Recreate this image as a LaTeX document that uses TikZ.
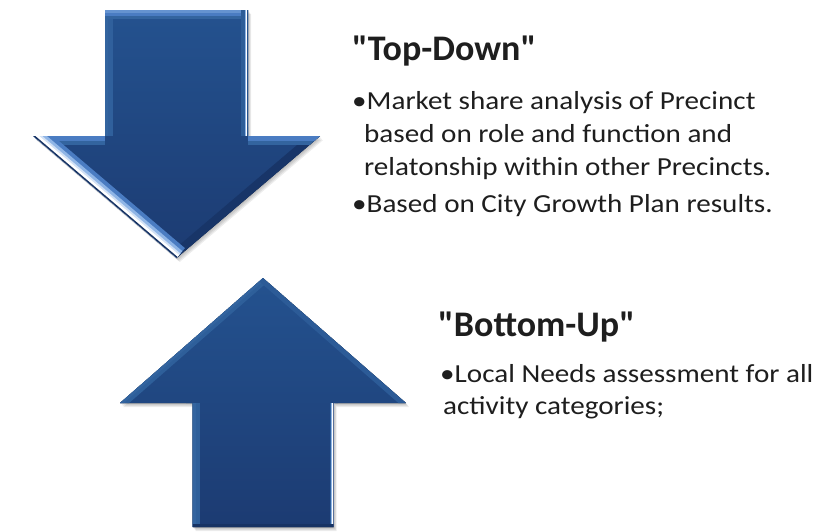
\documentclass[tikz,border=0pt]{standalone}
\usepackage{fontspec}
\setmainfont{Carlito}[Ligatures=TeXOff]
\definecolor{arrtop}{HTML}{24528F}
\definecolor{arrbot}{HTML}{1C3B72}
\definecolor{bevlight}{HTML}{4A7CC2}
\definecolor{bevmid}{HTML}{33649F}
\definecolor{bevpale}{HTML}{8FB5E6}
\definecolor{bevdark}{HTML}{173364}
\definecolor{txt}{HTML}{1E1E1E}
\newcommand{\wide}[1]{\scalebox{1.12}[1]{#1}}
\tikzset{
  title/.style={anchor=base west, inner sep=0pt, font=\fontsize{36}{40}\selectfont\bfseries, text=txt},
  body/.style={anchor=base west, inner sep=0pt, font=\fontsize{26}{30}\selectfont, text=txt},
  arrowfill/.style={top color=arrtop, bottom color=arrbot},
  shadowfill/.style={fill=black, opacity=0.07}
}
\begin{document}
\begin{tikzpicture}[x=1pt,y=-1pt]
\useasboundingbox (0,0) rectangle (826,531);
% ---------- down arrow coordinates ----------
\coordinate (dA) at (105,10);
\coordinate (dB) at (248,10);
\coordinate (dC) at (248,136);
\coordinate (dD) at (320,136);
\coordinate (dE) at (176.5,258);
\coordinate (dF) at (33,136);
\coordinate (dG) at (105,136);
% ---------- up arrow coordinates ----------
\coordinate (uT) at (263,278);
\coordinate (uR) at (406,403);
\coordinate (uRs) at (333.5,403);
\coordinate (uBR) at (333.5,527);
\coordinate (uBL) at (192.5,527);
\coordinate (uLs) at (192.5,403);
\coordinate (uL) at (120,403);
% ---------- shadows ----------
\foreach \s in {1,2,3,4}{
  \fill[shadowfill, transform canvas={shift={(\s*0.8,\s)}}] (dA) -- (dB) -- (dC) -- (dD) -- (dE) -- (dF) -- (dG) -- cycle;
  \fill[shadowfill, transform canvas={shift={(\s*0.8,\s)}}] (uT) -- (uR) -- (uRs) -- (uBR) -- (uBL) -- (uLs) -- (uL) -- cycle;
}
% ---------- down arrow body ----------
\fill[arrowfill] (dA) -- (dB) -- (dC) -- (dD) -- (dE) -- (dF) -- (dG) -- cycle;
\begin{scope}
  \clip (dA) -- (dB) -- (dC) -- (dD) -- (dE) -- (dF) -- (dG) -- cycle;
  % right diagonal (darker)
  \draw[line width=16pt, bevdark!70!arrbot] (dD) -- (dE);
  % left shaft edge
  \draw[line width=16pt, bevmid!80!arrtop] (dG) -- (dA);
  \draw[line width=6pt, bevmid] (dG) -- (dA);
  % ledges
  \draw[line width=18pt, bevmid] (dC) -- (dD);
  \draw[line width=10pt, bevlight] (dC) -- (dD);
  \draw[line width=18pt, bevmid] (dF) -- (dG);
  \draw[line width=10pt, bevlight] (dF) -- (dG);
  % top edge
  \draw[line width=18pt, bevmid] (dA) -- (dB);
  \draw[line width=11pt, bevlight] (dA) -- (dB);
  \draw[line width=5pt, bevlight!60!bevpale] (dA) -- (dB);
  % right shaft edge highlight
  \draw[line width=14pt, bevmid!60!arrtop] (dB) -- (dC);
  \draw[line width=7pt, bevpale] (dB) -- (dC);
  \draw[line width=4pt, white] (dB) -- (dC);
  \draw[line width=1.5pt, arrtop] (dB) -- (dC);
  % left diagonal highlight
  \draw[line width=26pt, bevlight] (dE) -- (dF);
  \draw[line width=18pt, bevpale] (dE) -- (dF);
  \draw[line width=12pt, bevpale!40!white] (dE) -- (dF);
  \draw[line width=8pt, white] (dE) -- (dF);
  \draw[line width=3pt, bevdark] (dE) -- (dF);
\end{scope}
% ---------- up arrow body ----------
\fill[arrowfill] (uT) -- (uR) -- (uRs) -- (uBR) -- (uBL) -- (uLs) -- (uL) -- cycle;
\begin{scope}
  \clip (uT) -- (uR) -- (uRs) -- (uBR) -- (uBL) -- (uLs) -- (uL) -- cycle;
  \draw[line width=12pt, bevmid!70!arrtop] (uL) -- (uT);
  \draw[line width=5pt, bevmid] (uL) -- (uT);
  \draw[line width=10pt, bevmid!50!arrtop] (uT) -- (uR);
  \draw[line width=14pt, bevmid!70!arrtop] (uLs) -- (uBL);
  \draw[line width=6pt, bevmid] (uLs) -- (uBL);
  \draw[line width=8pt, bevmid!60!arrtop] (uRs) -- (uBR);
  \draw[line width=5pt, bevpale] (uRs) -- (uBR);
  \draw[line width=3pt, white] (uRs) -- (uBR);
  \draw[line width=1.2pt, arrbot] (uRs) -- (uBR);
  \draw[line width=6pt, bevdark] (uBL) -- (uBR);
\end{scope}
% ---------- texts ----------
\node[title] (tdtitle) at (352,60) {"Top-Down"};
\node[body] (td1) at (352,109) {\wide{•Market share analysis of Precinct}};
\node[body] (td2) at (364,142) {\wide{based on role and function and}};
\node[body] (td3) at (364,175) {\wide{relatonship within other Precincts.}};
\node[body] (td4) at (352,212) {\wide{•Based on City Growth Plan results.}};
\node[title] (butitle) at (438,336) {"Bottom-Up"};
\node[body] (bu1) at (440,382) {\wide{•Local Needs assessment for all}};
\node[body] (bu2) at (443,414) {\wide{activity categories;}};
\end{tikzpicture}
\end{document}
